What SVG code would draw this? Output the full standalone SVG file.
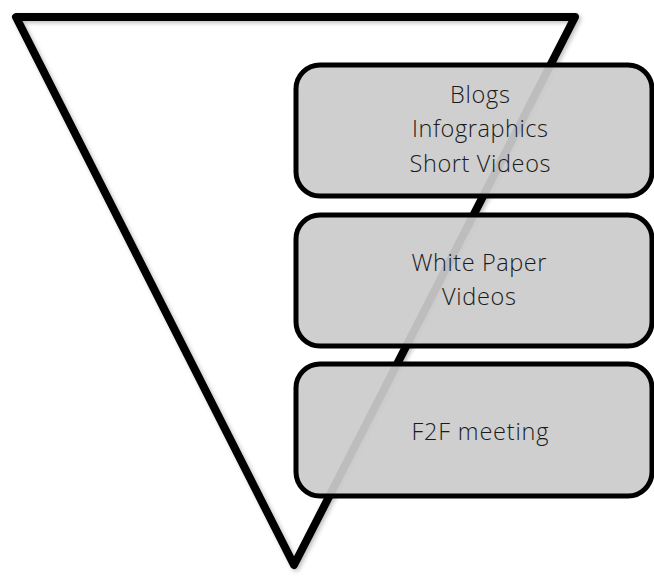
<svg xmlns="http://www.w3.org/2000/svg" width="654" height="579" viewBox="0 0 654 579">
<defs>
<filter id="sh" x="-10%" y="-10%" width="120%" height="120%">
<feDropShadow dx="2" dy="2" stdDeviation="2" flood-color="#000" flood-opacity="0.25"/>
</filter>
<style>
.box{fill:#cbcbcb;fill-opacity:0.93;stroke:#000;stroke-width:5}
.lbl{font-family:"Open Sans",Lato,"Liberation Sans",sans-serif;font-weight:300;font-size:23.5px;fill:#1a1a1a;text-anchor:middle}
</style>
</defs>
<rect width="654" height="579" fill="#fff"/>
<g id="funnel">
<polygon points="16,17 575,17 294,565" fill="none" stroke="#000" stroke-width="8" stroke-linejoin="round" filter="url(#sh)"/>
</g>
<g id="node1">
<rect class="box" x="296" y="65" width="356" height="131" rx="24"/>
<text class="lbl" x="480" y="103" textLength="60" lengthAdjust="spacing">Blogs</text>
<text class="lbl" x="480" y="137" textLength="136" lengthAdjust="spacing">Infographics</text>
<text class="lbl" x="480" y="172" textLength="141" lengthAdjust="spacing">Short Videos</text>
</g>
<g id="node2">
<rect class="box" x="296" y="215" width="356" height="131" rx="24"/>
<text class="lbl" x="479" y="271" textLength="135" lengthAdjust="spacing">White Paper</text>
<text class="lbl" x="479" y="305" textLength="74" lengthAdjust="spacing">Videos</text>
</g>
<g id="node3">
<rect class="box" x="296" y="364" width="356" height="132" rx="24"/>
<text class="lbl" x="480" y="440" textLength="137" lengthAdjust="spacing">F2F meeting</text>
</g>
<g id="connectors"/>
</svg>
